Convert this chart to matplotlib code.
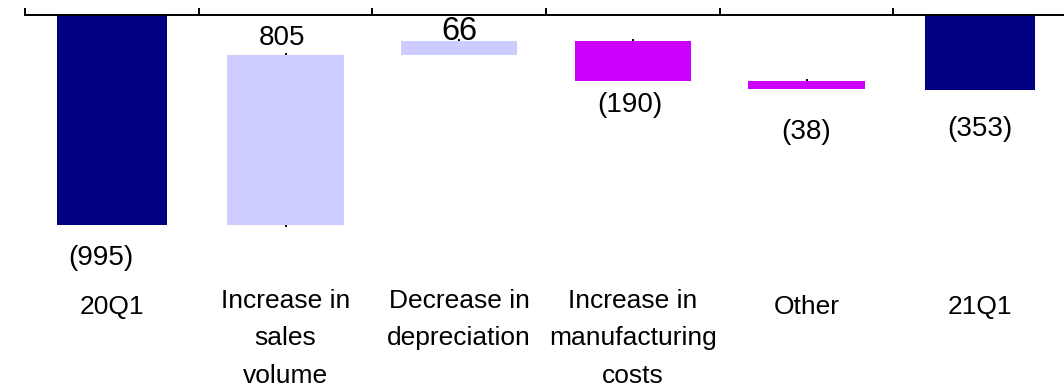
import matplotlib
matplotlib.use("Agg")
import matplotlib.pyplot as plt
from matplotlib import font_manager, transforms
import numpy as np

# Bridge from 20Q1 to 21Q1 (values in millions)
categories = ["20Q1", "Increase in\nsales\nvolume", "Decrease in\ndepreciation",
              "Increase in\nmanufacturing\ncosts", "Other", "21Q1"]
start_total = -995
changes = [805, 66, -190, -38]
end_total = -353

navy = "#000080"
lavender = "#CCCCFF"
magenta = "#CC00FF"

# font: narrow sans if available
names = {f.name for f in font_manager.fontManager.ttflist}
narrow = "Liberation Sans Narrow" in names
family = ["Liberation Sans Narrow", "Liberation Sans"] if narrow else ["Liberation Sans"]
value_fs = 22 if narrow else 20
cat_fs = 20.5 if narrow else 19

W, H, DPI = 1064, 389, 100
fig = plt.figure(figsize=(W / DPI, H / DPI), dpi=DPI)

# axes geometry in pixels
top_px = 15.3
left_px = 25
right_px = 1067
ymin = -1200
px_per_unit = 0.2105
height_px = -ymin * px_per_unit
ax = fig.add_axes([left_px / W, 1 - (top_px + height_px) / H,
                   (right_px - left_px) / W, height_px / H])
ax.set_xlim(-0.5, len(categories) - 0.5)
ax.set_ylim(ymin, 0)

# waterfall geometry
levels = np.concatenate([[start_total], start_total + np.cumsum(changes)])
x = np.arange(len(categories))
total_w = 0.634
delta_w = 0.668

ax.bar(x[0], start_total, width=total_w, bottom=0, color=navy, zorder=3)
ax.bar(x[-1], end_total, width=total_w, bottom=0, color=navy, zorder=3)
for i, ch in enumerate(changes):
    ax.bar(x[i + 1], ch, width=delta_w, bottom=levels[i],
           color=lavender if ch > 0 else magenta, zorder=3)
    # small tick at the upper edge of each step
    ax.plot(x[i + 1], max(levels[i], levels[i + 1]), marker="|", color="black",
            markersize=3.2, markeredgewidth=1.4, zorder=2, clip_on=False)
# tick at the base of the first step
ax.plot(x[1], levels[0], marker="|", color="black", markersize=3.2,
        markeredgewidth=1.4, zorder=2, clip_on=False)

def fmt(v):
    return f"({abs(v):,})" if v < 0 else f"{v:,}"

# value labels next to the free end of each bar
bar_values = [start_total] + changes + [end_total]
anchors = [start_total, levels[1], levels[2], levels[3], levels[4], end_total]
offsets = [(-11, -33), (-4, 17), (0, 10), (-3, -24), (0, -43), (0, -39)]
for i, (v, a, (dx, dy)) in enumerate(zip(bar_values, anchors, offsets)):
    if v == 66:
        fam, fs = ["Liberation Sans"], 23.5
    else:
        fam, fs = family, value_fs
    ax.annotate(fmt(v), (x[i], a), xytext=(dx * 0.72, dy * 0.72),
                textcoords="offset points", ha="center", va="center",
                fontsize=fs, family=fam, color="black", annotation_clip=False)

# category labels below the chart
cat_tr = transforms.blended_transform_factory(ax.transData, fig.transFigure)
for i, lab in enumerate(categories):
    y_top = 289 if "\n" in lab else 295
    ax.text(x[i], 1 - y_top / H, lab, transform=cat_tr,
            ha="center", va="top", fontsize=cat_fs, family=family,
            linespacing=1.70, color="black", clip_on=False)

# axis line along the top with upward ticks at category boundaries
for s in ["left", "right", "bottom"]:
    ax.spines[s].set_visible(False)
ax.spines["top"].set_linewidth(1.4)
ax.spines["top"].set_zorder(4)
ax.xaxis.tick_top()
ax.set_xticks(np.arange(-0.5, len(categories), 1.0))
ax.tick_params(axis="x", direction="out", length=5, width=1.4, labeltop=False,
               labelbottom=False)
ax.set_yticks([])

fig.savefig("out.png", dpi=DPI)
